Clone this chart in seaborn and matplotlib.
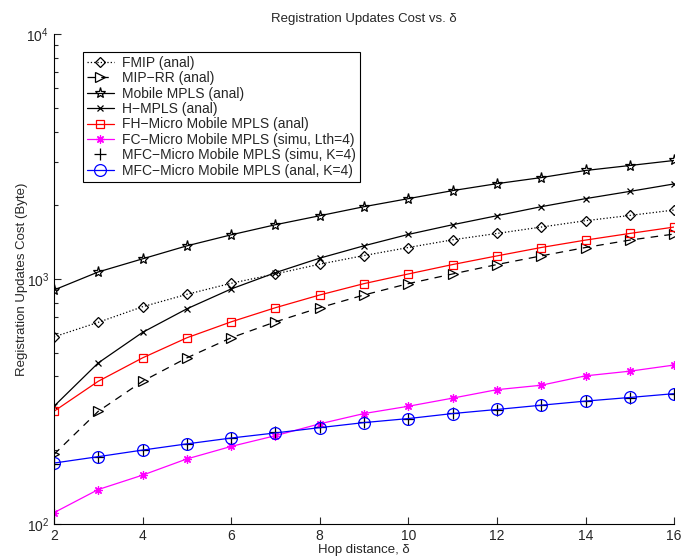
import numpy as np
import pandas as pd
import matplotlib
matplotlib.use('Agg')
import matplotlib.pyplot as plt
import seaborn as sns

# Data (hop distance vs cost in bytes)
hops = list(range(2, 17))
fmip = [580, 665, 770, 865, 960, 1048, 1149, 1246, 1344, 1445, 1534, 1629, 1729, 1817, 1912]
mip_rr = [192, 288, 382, 476, 575, 668, 763, 860, 957, 1048, 1145, 1242, 1344, 1441, 1525]
mobile_mpls = [901, 1068, 1208, 1365, 1514, 1665, 1812, 1973, 2128, 2295, 2450, 2594, 2773, 2906, 3047]
h_mpls = [302, 454, 605, 755, 910, 1061, 1216, 1366, 1520, 1665, 1812, 1973, 2128, 2278, 2444]
fh_micro = [288, 382, 476, 575, 668, 763, 860, 957, 1048, 1145, 1242, 1344, 1441, 1534, 1629]
fc_micro_simu = [111, 138, 158, 184, 207, 229, 256, 282, 302, 326, 353, 368, 402, 420, 445]
mfc_simu = [176, 188, 201, 212, 224, 236, 248, 260, 269, 283, 291, 305, 316, 327, 339]
mfc_anal = [177, 188, 200, 212, 224, 235, 247, 259, 269, 282, 293, 305, 317, 328, 340]

labels = ['FMIP (anal)', 'MIP\u2212RR (anal)', 'Mobile MPLS (anal)', 'H\u2212MPLS (anal)',
          'FH\u2212Micro Mobile MPLS (anal)', 'FC\u2212Micro Mobile MPLS (simu, Lth=4)',
          'MFC\u2212Micro Mobile MPLS (simu, K=4)', 'MFC\u2212Micro Mobile MPLS (anal, K=4)']
series = [fmip, mip_rr, mobile_mpls, h_mpls, fh_micro, fc_micro_simu, mfc_simu, mfc_anal]

# style per series: (color, marker, linestyle, markersize)
styles = [
    ('black', 'D', ':', 5.5),
    ('black', '>', (0, (6, 5)), 7.5),
    ('black', '*', '-', 8),
    ('black', 'x', '-', 5),
    ('red', 's', '-', 6),
    ('magenta', (8, 2, 0), '-', 6),
    ('black', '+', 'none', 8),
    ('blue', 'o', '-', 8.5),
]

sns.set_style('ticks')
plt.rcParams['font.family'] = ['Liberation Sans', 'DejaVu Sans']
plt.rcParams['xtick.direction'] = 'in'
plt.rcParams['ytick.direction'] = 'in'
plt.rcParams['mathtext.fontset'] = 'custom'
plt.rcParams['mathtext.rm'] = 'Liberation Sans'

fig = plt.figure(figsize=(6.83, 5.59), dpi=100)
ax = fig.add_axes([0.079, 0.063, 0.908, 0.876])

for lab, vals, (col, mk, ls, ms) in zip(labels, series, styles):
    df = pd.DataFrame({'hop': hops, 'cost': vals})
    sns.lineplot(data=df, x='hop', y='cost', ax=ax, color=col, marker=mk,
                 linestyle=ls, linewidth=0.9, markersize=ms,
                 markerfacecolor='none', markeredgecolor=col,
                 markeredgewidth=0.9, label=lab)

ax.set_yscale('log')
ax.set_xlim(2, 16)
ax.set_ylim(100, 10000)
ax.set_xticks(range(2, 17, 2))
ax.set_yticks([100, 1000, 10000])
ax.tick_params(axis='both', which='major', labelsize=10, length=5, width=0.8)
ax.tick_params(axis='y', which='minor', length=3, width=0.8)
ax.minorticks_on()
ax.tick_params(axis='x', which='minor', bottom=False)
sns.despine(ax=ax)
for s in ['left', 'bottom']:
    ax.spines[s].set_linewidth(0.8)
    ax.spines[s].set_color('black')

ax.set_title('Registration Updates Cost vs. \u03b4', fontsize=9.5, pad=9)
ax.set_xlabel('Hop distance, \u03b4', fontsize=9.5, labelpad=1)
ax.set_ylabel('Registration Updates Cost (Byte)', fontsize=9.5)
ax.yaxis.set_label_coords(-0.042, 0.5)

leg = ax.legend(loc='upper left', bbox_to_anchor=(0.047, 0.964), fontsize=10,
                frameon=True, fancybox=False, edgecolor='black', framealpha=1,
                handlelength=1.9, handletextpad=0.6, borderpad=0.3,
                labelspacing=0.1, borderaxespad=0)
leg.get_frame().set_linewidth(0.8)

fig.savefig('out.png', dpi=100)
